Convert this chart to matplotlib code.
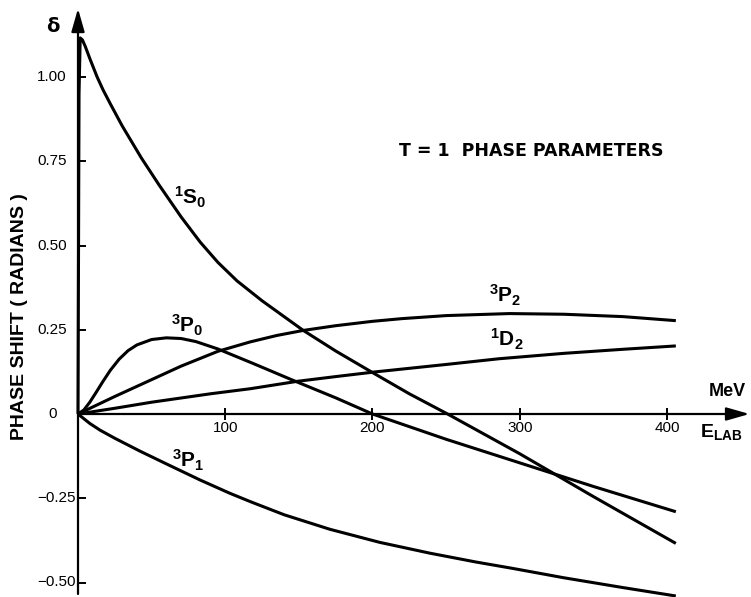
import numpy as np
import matplotlib
matplotlib.use('Agg')
import matplotlib.pyplot as plt

plt.rcParams['font.family'] = ['Liberation Sans', 'DejaVu Sans']
plt.rcParams['mathtext.fontset'] = 'custom'
plt.rcParams['mathtext.rm'] = 'Liberation Sans:bold'
plt.rcParams['mathtext.it'] = 'Liberation Sans:bold'
plt.rcParams['mathtext.bf'] = 'Liberation Sans:bold'

# phase shifts (E in MeV, delta in radians)
E_1S0 = [0, 0.7, 1.5, 3, 5, 8, 13, 17, 22, 30, 43, 55, 70, 83, 95, 108, 125, 153, 175, 200, 225, 251,
         300, 350, 406]
d_1S0 = [0, 0.95, 1.116, 1.11, 1.09, 1.055, 1.0, 0.962, 0.92, 0.855, 0.76, 0.68, 0.585, 0.51, 0.45, 0.395,
         0.336, 0.248, 0.187, 0.123, 0.06, 0.0, -0.118, -0.245, -0.384]

E_3P0 = [0, 4, 8, 12, 17, 22, 28, 34, 40, 50, 60, 70, 80, 95, 120, 146, 175, 200, 250, 300, 350, 406]
d_3P0 = [0, 0.012, 0.035, 0.062, 0.097, 0.13, 0.163, 0.188, 0.205, 0.221, 0.226, 0.224, 0.215, 0.193,
         0.148, 0.10, 0.048, 0.0, -0.075, -0.145, -0.215, -0.29]

E_3P2 = [0, 25, 50, 70, 95, 117, 135, 153, 175, 200, 220, 250, 293, 330, 370, 406]
d_3P2 = [0, 0.052, 0.102, 0.142, 0.186, 0.214, 0.233, 0.248, 0.262, 0.275, 0.283, 0.292, 0.298,
         0.296, 0.289, 0.277]

E_1D2 = [0, 25, 50, 90, 117, 149, 175, 202, 250, 286, 330, 370, 406]
d_1D2 = [0, 0.017, 0.035, 0.06, 0.075, 0.097, 0.111, 0.125, 0.147, 0.164, 0.18, 0.192, 0.202]

E_3P1 = [0, 8, 15, 25, 42, 60, 83, 103, 117, 140, 171, 205, 239, 270, 295, 330, 370, 406]
d_3P1 = [0, -0.028, -0.048, -0.072, -0.11, -0.148, -0.196, -0.235, -0.26, -0.299, -0.342, -0.381, -0.413,
         -0.439, -0.458, -0.486, -0.515, -0.54]

yticks = [-0.5, -0.25, 0.25, 0.5, 0.75, 1.0]
ytick_labels = ['\u22120.50', '\u22120.25', '0.25', '0.50', '0.75', '1.00']
xticks = [100, 200, 300, 400]
xtick_labels = ['100', '200', '300', '400']

fig = plt.figure(figsize=(7.51, 5.97), dpi=100)
ax = fig.add_axes([78 / 751, 1 / 597, 672 / 751, 587 / 597])
ax.set_xlim(0, 672 / 1.4725)
ax.set_ylim(-182 / 337, 405 / 337)

for s in ax.spines.values():
    s.set_visible(False)
ax.spines['left'].set_position(('data', 0))
ax.spines['bottom'].set_position(('data', 0))

# axes with arrow heads
arr = dict(arrowstyle='-|>,head_length=0.7,head_width=0.2', mutation_scale=20,
           lw=1.6, color='k', shrinkA=0, shrinkB=0)
ax.annotate('', xy=(456, 0), xytext=(0, 0), arrowprops=arr, annotation_clip=False)
ax.annotate('', xy=(0, 1.203), xytext=(0, -0.534), arrowprops=arr, annotation_clip=False)

ax.set_yticks(yticks)
ax.set_xticks(xticks)
ax.tick_params(axis='y', direction='in', length=6, width=1.4, labelleft=False)
ax.tick_params(axis='x', direction='inout', length=9, width=1.4, labelbottom=False)

for v, lab in zip(yticks, ytick_labels):
    off = -1.5 if v < 0 else -8
    ax.annotate(lab, (0, v), xytext=(off, 0), textcoords='offset points',
                ha='right', va='center', fontsize=11, annotation_clip=False)
ax.annotate('0', (0, 0), xytext=(-15, 0), textcoords='offset points',
            ha='right', va='center', fontsize=11, annotation_clip=False)
for v, lab in zip(xticks, xtick_labels):
    ax.annotate(lab, (v, 0), xytext=(0, -10), textcoords='offset points',
                ha='center', va='center', fontsize=11, annotation_clip=False)

lw = 2.2
for E, d in [(E_1S0, d_1S0), (E_3P0, d_3P0), (E_3P2, d_3P2), (E_1D2, d_1D2), (E_3P1, d_3P1)]:
    ax.plot(E, d, color='k', lw=lw, solid_joinstyle='round', solid_capstyle='butt', clip_on=False)

# curve labels
lab_kw = dict(ha='center', va='center', fontsize=15)
ax.text(76, 0.644, r'$^{1}\mathrm{S}_{0}$', **lab_kw)
ax.text(74, 0.264, r'$^{3}\mathrm{P}_{0}$', **lab_kw)
ax.text(290, 0.353, r'$^{3}\mathrm{P}_{2}$', **lab_kw)
ax.text(291, 0.22, r'$^{1}\mathrm{D}_{2}$', **lab_kw)
ax.text(75, -0.137, r'$^{3}\mathrm{P}_{1}$', **lab_kw)

ax.text(307.6, 0.78, 'T = 1  PHASE PARAMETERS', ha='center', va='center',
        fontsize=12.5, fontweight='bold', family=['DejaVu Sans'])
ax.text(441, 0.068, 'MeV', ha='center', va='center', fontsize=13, fontweight='bold')
ax.text(437, -0.053, r'$\mathrm{E}_{\mathrm{LAB}}$', ha='center', va='center', fontsize=14)
ax.text(-17, 1.151, '\u03b4', ha='center', va='center', fontsize=14, fontweight='bold',
        family=['DejaVu Sans'])
ax.text(-39.4, 0.288, 'PHASE SHIFT ( RADIANS )', rotation=90, ha='center', va='center',
        fontsize=14, fontweight='bold')

fig.savefig('out.png', dpi=100)
